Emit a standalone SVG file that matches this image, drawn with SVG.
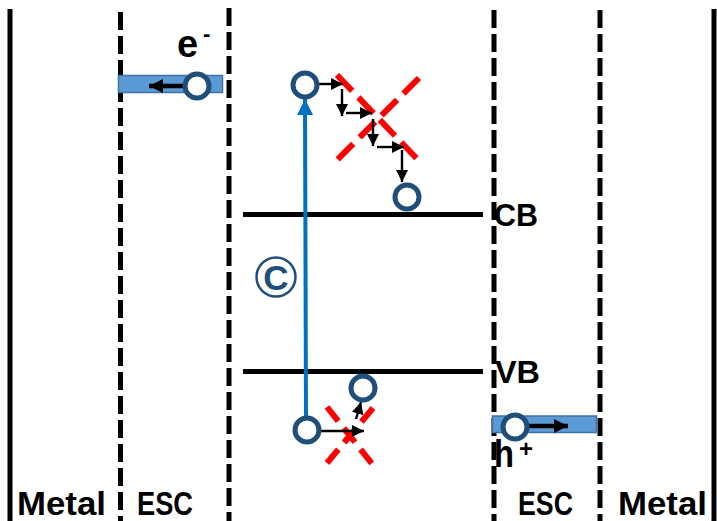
<svg xmlns="http://www.w3.org/2000/svg" width="717" height="521" viewBox="0 0 717 521">
<style>
.bold{font-family:"Liberation Sans",Arial,sans-serif;font-weight:bold;fill:#000}
.solid{stroke:#000;stroke-width:5;fill:none}
.dash{stroke:#000;stroke-width:5;stroke-dasharray:18 6;fill:none}
.level{stroke:#000;stroke-width:5}
.carrier{fill:#fff;stroke:#1F4E79;stroke-width:5}
.bar{fill:#5B9BD5;stroke:#41719C;stroke-width:1.5}
.cross{stroke:#FF0000;stroke-width:6;stroke-dasharray:22 9;fill:none}
.thin{stroke:#000;stroke-width:2.4;fill:none}
.thick{stroke:#000;stroke-width:4.5;fill:none}
</style>
<defs>
<marker id="ah" viewBox="0 0 10 10" refX="10" refY="5" markerWidth="12" markerHeight="12" markerUnits="userSpaceOnUse" orient="auto">
<path d="M0,0 L10,5 L0,10 z" fill="#000"/>
</marker>
<marker id="ahb" viewBox="0 0 10 10" refX="10" refY="5" markerWidth="16" markerHeight="14" markerUnits="userSpaceOnUse" orient="auto">
<path d="M0,0 L10,5 L0,10 z" fill="#000"/>
</marker>
<marker id="ahblue" viewBox="0 0 10 10" refX="10" refY="5" markerWidth="16" markerHeight="17" markerUnits="userSpaceOnUse" orient="auto">
<path d="M0,0 L10,5 L0,10 z" fill="#0070C0"/>
</marker>
</defs>
<g id="boundaries">
<line class="solid" x1="10" y1="9" x2="10" y2="521"/>
<line class="solid" x1="714" y1="9" x2="714" y2="521"/>
<line class="dash" x1="120.5" y1="12" x2="120.5" y2="521"/>
<line class="dash" x1="229" y1="8" x2="229" y2="521"/>
<line class="dash" x1="494" y1="10" x2="494" y2="521"/>
<line class="dash" x1="600" y1="10" x2="600" y2="521"/>
</g>
<g id="CB">
<line class="level" x1="243" y1="214.5" x2="483" y2="214.5"/>
<text class="bold" x="494" y="226" font-size="32" textLength="44" lengthAdjust="spacingAndGlyphs">CB</text>
</g>
<g id="VB">
<line class="level" x1="243" y1="371.5" x2="483" y2="371.5"/>
<text class="bold" x="495" y="383" font-size="32" textLength="45" lengthAdjust="spacingAndGlyphs">VB</text>
</g>
<g id="labels">
<text class="bold" x="17" y="515" font-size="34" textLength="89" lengthAdjust="spacingAndGlyphs">Metal</text>
<text class="bold" x="137" y="515" font-size="33" textLength="56" lengthAdjust="spacingAndGlyphs">ESC</text>
<text class="bold" x="518" y="515" font-size="33" textLength="55" lengthAdjust="spacingAndGlyphs">ESC</text>
<text class="bold" x="618" y="515" font-size="34" textLength="89" lengthAdjust="spacingAndGlyphs">Metal</text>
</g>
<g id="esc-left">
<rect class="bar" x="118.5" y="75.5" width="104" height="17"/>
<text class="bold" x="177" y="57" font-size="38">e</text>
<text class="bold" x="203" y="41" font-size="22">-</text>
</g>
<g id="esc-right">
<rect class="bar" x="492.5" y="416" width="104" height="16.5"/>
<text class="bold" x="494" y="467" font-size="38" textLength="20" lengthAdjust="spacingAndGlyphs">h</text>
<text class="bold" x="519" y="457" font-size="24">+</text>
</g>
<g id="symbol-c">
<circle cx="276" cy="277" r="19.5" fill="none" stroke="#1F4E79" stroke-width="2.5"/>
<text x="276" y="289.5" font-family="'Liberation Sans',Arial,sans-serif" font-weight="bold" font-size="35" fill="#1F4E79" text-anchor="middle">C</text>
</g>
<g id="recombination-top">
<line class="cross" x1="337" y1="75" x2="420" y2="162"/>
<line class="cross" x1="419" y1="78" x2="335" y2="162"/>
</g>
<g id="recombination-bottom">
<line class="cross" x1="327" y1="407" x2="373" y2="465" style="stroke-dasharray:18 9"/>
<line class="cross" x1="373" y1="408" x2="327" y2="463" style="stroke-dasharray:18 9"/>
</g>
<g id="connectors">
<line x1="306" y1="418" x2="305" y2="99" stroke="#0070C0" stroke-width="4" marker-end="url(#ahblue)"/>
<line class="thick" x1="186" y1="86" x2="149" y2="86" marker-end="url(#ahb)"/>
<line class="thick" x1="528" y1="426" x2="568" y2="426" marker-end="url(#ahb)"/>
<line class="thin" x1="318" y1="84" x2="343" y2="84" marker-end="url(#ah)"/>
<line class="thin" x1="342" y1="89" x2="342" y2="116" marker-end="url(#ah)"/>
<line class="thin" x1="346" y1="113" x2="372" y2="113" marker-end="url(#ah)"/>
<line class="thin" x1="373" y1="119" x2="373" y2="146" marker-end="url(#ah)"/>
<line class="thin" x1="377" y1="147" x2="404" y2="147" marker-end="url(#ah)"/>
<line class="thin" x1="402" y1="150" x2="402" y2="182" marker-end="url(#ah)"/>
<line class="thin" x1="321" y1="431" x2="364" y2="431" marker-end="url(#ah)"/>
<line class="thin" x1="356" y1="419" x2="361" y2="402" marker-end="url(#ah)"/>
</g>
<g id="electron-esc"><circle class="carrier" cx="197" cy="86" r="12"/></g>
<g id="hole-esc"><circle class="carrier" cx="515" cy="427" r="12"/></g>
<g id="electron-excited"><circle class="carrier" cx="305" cy="85" r="12"/></g>
<g id="electron-cb"><circle class="carrier" cx="407" cy="197" r="12"/></g>
<g id="hole-vb"><circle class="carrier" cx="307" cy="430" r="12"/></g>
<g id="hole-relaxed"><circle class="carrier" cx="363" cy="388" r="12"/></g>
</svg>
